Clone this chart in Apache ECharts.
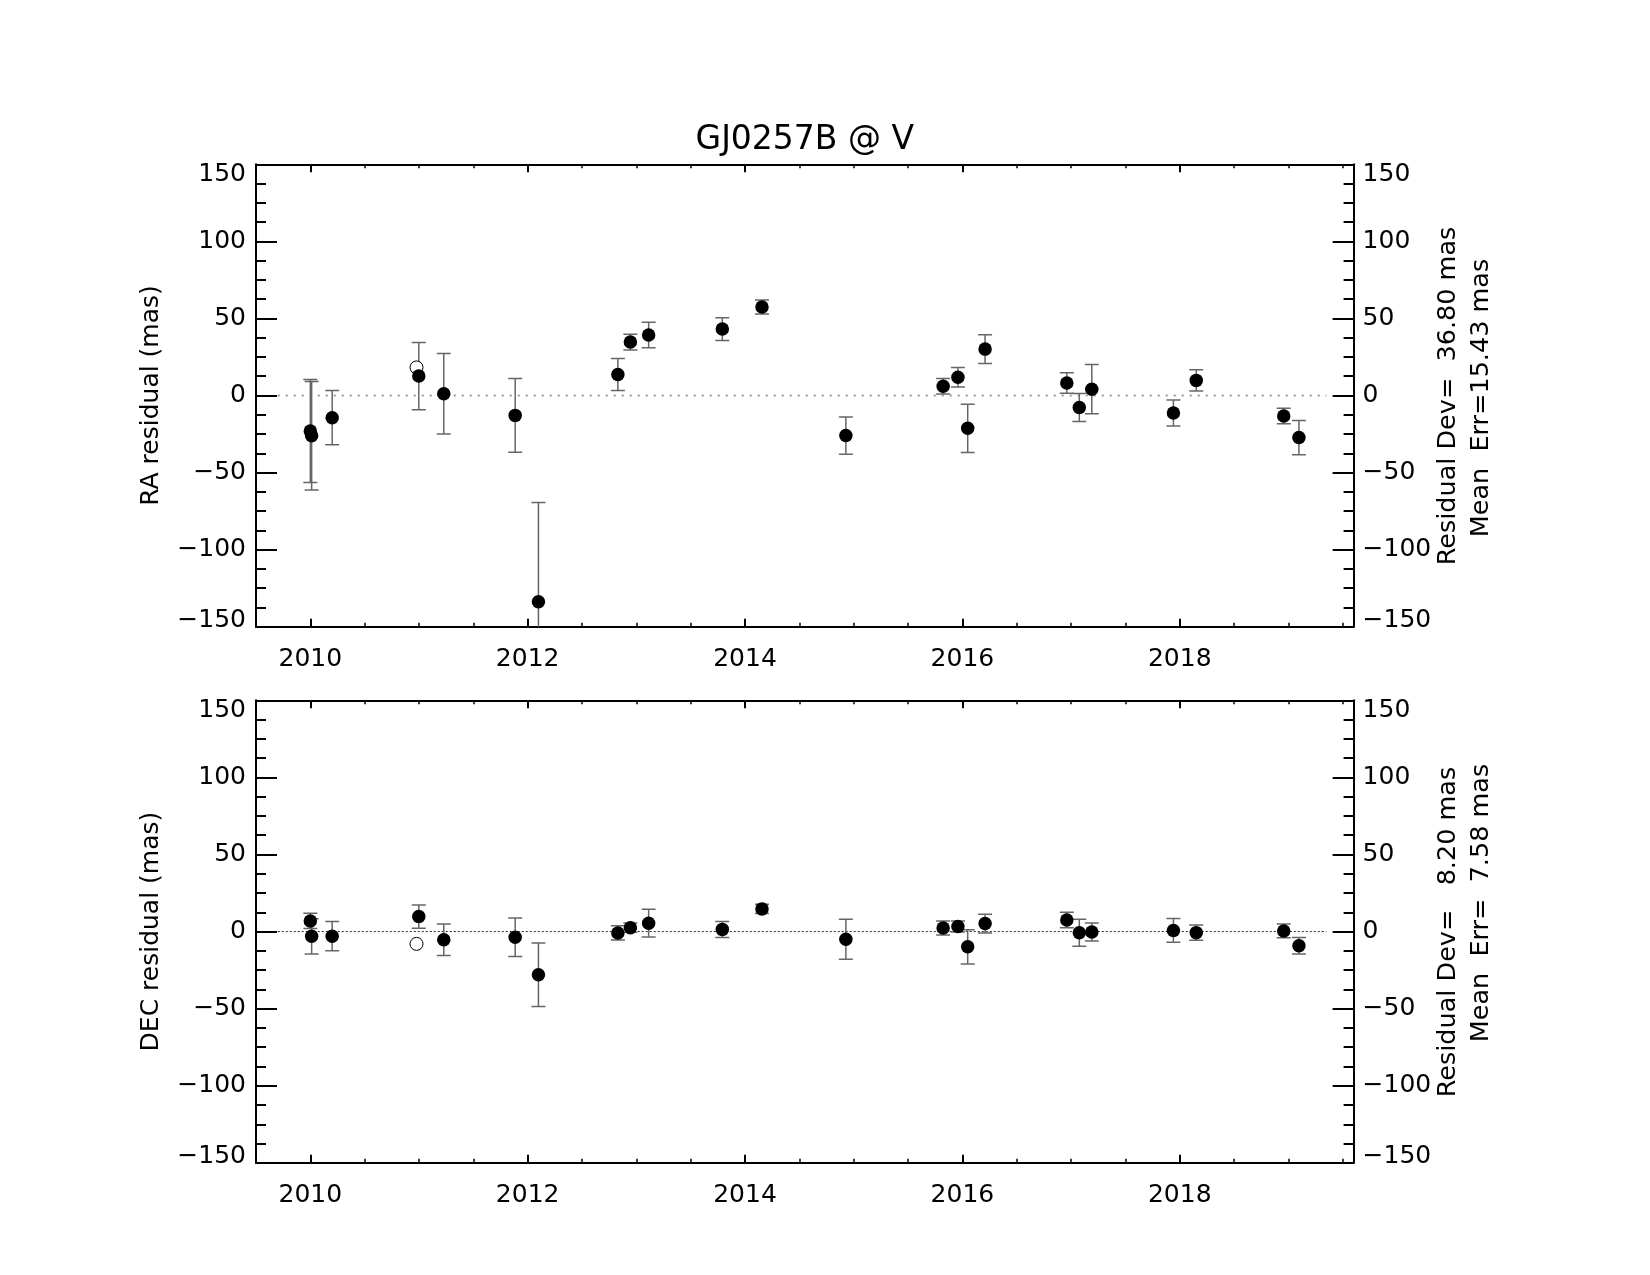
<!DOCTYPE html>
<html><head><meta charset="utf-8">
<script src="https://cdn.jsdelivr.net/npm/echarts@6/dist/echarts.min.js"></script>
<style>html,body{margin:0;padding:0;background:#fff}#c{width:1650px;height:1275px}</style>
</head><body><div id="c"></div>
<script>
// ---------------- data ----------------
const years = [2010.000, 2010.012, 2010.201, 2010.998, 2011.228, 2011.885, 2012.099, 2012.830,
  2012.945, 2013.113, 2013.791, 2014.156, 2014.928, 2015.823, 2015.959, 2016.049, 2016.209,
  2016.961, 2017.076, 2017.191, 2017.942, 2018.152, 2018.957, 2019.097];
const raValues = [-23.0, -26.1, -14.4, 12.6, 1.2, -12.9, -133.8, 13.6, 34.7, 39.3, 43.1, 57.4,
  -26.0, 6.0, 11.8, -21.3, 30.1, 8.1, -7.8, 4.1, -11.4, 9.8, -13.3, -27.3];
const raErrors = [33.4, 35.2, 17.6, 21.8, 26.1, 23.9, 64.3, 10.4, 5.1, 8.3, 7.4, 4.5,
  12.1, 5.0, 6.3, 15.6, 9.3, 6.7, 9.1, 16.0, 8.4, 6.9, 5.1, 11.1];
const decValues = [6.9, -3.1, -3.0, 9.7, -5.3, -3.7, -28.0, -0.9, 2.5, 5.4, 1.4, 14.7,
  -5.0, 2.3, 3.3, -9.9, 5.2, 7.5, -0.8, -0.3, 0.7, -0.7, 0.4, -9.2];
const decErrors = [4.9, 11.4, 9.5, 7.5, 10.2, 12.5, 20.6, 4.6, 3.0, 9.0, 5.2, 3.0,
  13.0, 4.6, 3.6, 11.1, 6.1, 5.1, 8.7, 5.8, 7.7, 4.9, 4.5, 5.4];
const rejectedYears = [2010.977];
const raRejected = [18.2];
const decRejected = [-8.0];
const majorYears = [2010, 2012, 2014, 2016, 2018];
const zeroSpan = [2009.7, 2019.35];
const titleText = 'GJ0257B @ V';
const raAxisTitle = 'RA residual (mas)';
const decAxisTitle = 'DEC residual (mas)';
const raStats = ['Residual Dev=  36.80 mas', 'Mean  Err=15.43 mas'];
const decStats = ['Residual Dev=   8.20 mas', 'Mean  Err=  7.58 mas'];

// ---------------- layout ----------------
const FONT = 'DejaVu Sans';
const LEFT = 256, RIGHT = 1353.6;
const panels = [{top: 164.3, height: 462.4}, {top: 700.3, height: 462.5}];

function yLabelFmt(v) {
  const s = v < 0 ? '\u2212' + Math.abs(v) : String(v);
  if (v === 150) return '{hi|' + s + '}';
  if (v === -150) return '{lo|' + s + '}';
  return s;
}
const labelRich = {
  hi: {padding: [20, 0, 0, 0], fontSize: 25, fontFamily: FONT, color: '#000'},
  lo: {padding: [0, 0, 12, 0], fontSize: 25, fontFamily: FONT, color: '#000'}
};

function xAxes(g) {
  const base = {type: 'value', gridIndex: g, min: 2009.5, max: 2019.6, splitLine: {show: false}};
  const majorTick = {show: true, inside: true, length: 8, customValues: majorYears, lineStyle: {color: '#000', width: 2}};
  const minorTick = {show: true, inside: true, length: 4, lineStyle: {color: '#000', width: 1.5}};
  const line = {show: true, onZero: false, lineStyle: {color: '#000', width: 2}};
  return [
    Object.assign({}, base, {position: 'bottom', axisLine: line, axisTick: majorTick,
      axisLabel: {show: true, customValues: majorYears, formatter: v => String(v), fontSize: 25,
        fontFamily: FONT, color: '#000', margin: 20}}),
    Object.assign({}, base, {position: 'bottom', interval: 0.5, axisLine: {show: false, onZero: false},
      axisTick: minorTick, axisLabel: {show: false}}),
    Object.assign({}, base, {position: 'top', axisLine: line, axisTick: majorTick, axisLabel: {show: false}}),
    Object.assign({}, base, {position: 'top', interval: 0.5, axisLine: {show: false, onZero: false},
      axisTick: minorTick, axisLabel: {show: false}})
  ];
}
function yAxes(g, name) {
  const base = {
    type: 'value', gridIndex: g, min: -150, max: 150, interval: 50, splitLine: {show: false},
    axisLine: {show: true, onZero: false, lineStyle: {color: '#000', width: 2}},
    axisTick: {show: true, inside: true, length: 21, lineStyle: {color: '#000', width: 2}},
    minorTick: {show: true, splitNumber: 4, length: 10, lineStyle: {color: '#000', width: 2}},
    minorSplitLine: {show: false}
  };
  return [
    Object.assign({}, base, {position: 'left',
      axisLabel: {formatter: yLabelFmt, rich: labelRich, fontSize: 25, fontFamily: FONT, color: '#000', margin: 10},
      name: name, nameLocation: 'middle', nameRotate: 90, nameGap: 92,
      nameTextStyle: {fontSize: 25, fontFamily: FONT, color: '#000'}}),
    Object.assign({}, base, {position: 'right',
      axisLabel: {formatter: yLabelFmt, rich: labelRich, fontSize: 25, fontFamily: FONT, color: '#000', margin: 9}})
  ];
}

function errRender(color, width) {
  return function (params, api) {
    const x = api.value(0), y = api.value(1), e = api.value(2);
    const t = api.coord([x, y + e]), b = api.coord([x, y - e]);
    const h = 7;
    const style = {stroke: color, lineWidth: width};
    return {type: 'group', children: [
      {type: 'line', shape: {x1: t[0], y1: t[1], x2: b[0], y2: b[1]}, style: style},
      {type: 'line', shape: {x1: t[0] - h, y1: t[1], x2: t[0] + h, y2: t[1]}, style: style},
      {type: 'line', shape: {x1: b[0] - h, y1: b[1], x2: b[0] + h, y2: b[1]}, style: style}
    ]};
  };
}

function panelSeries(g, vals, errs, rej, zeroStyle) {
  const xi = g * 4, yi = g * 2;
  return [
    {type: 'line', xAxisIndex: xi, yAxisIndex: yi, data: zeroSpan.map(x => [x, 0]),
      symbol: 'none', lineStyle: zeroStyle, z: 1, silent: true},
    {type: 'custom', xAxisIndex: xi, yAxisIndex: yi, clip: true, z: 2,
      dimensions: ['x', 'y', 'e'], encode: {x: 0, y: 1},
      data: years.map((x, i) => [x, vals[i], errs[i]]), renderItem: errRender('#666', 1.5)},
    {type: 'scatter', xAxisIndex: xi, yAxisIndex: yi, z: 3, symbol: 'circle', symbolSize: 13,
      itemStyle: {color: '#fff', borderColor: '#000', borderWidth: 1, opacity: 1},
      data: rejectedYears.map((x, i) => [x, rej[i]])},
    {type: 'scatter', xAxisIndex: xi, yAxisIndex: yi, z: 4, symbol: 'circle', symbolSize: 13.5,
      itemStyle: {color: '#000', opacity: 1},
      data: years.map((x, i) => [x, vals[i]])}
  ];
}

function rotText(x, y, text) {
  return {type: 'text', x: x, y: y, rotation: Math.PI / 2, silent: true,
    style: {text: text, font: '25.5px "' + FONT + '"', fill: '#000', align: 'center', verticalAlign: 'middle'}};
}

const chart = echarts.init(document.getElementById('c'), null, {renderer: 'canvas'});
chart.setOption({
  animation: false,
  backgroundColor: '#fff',
  textStyle: {fontFamily: FONT},
  grid: panels.map(p => ({left: LEFT, right: 1650 - RIGHT, top: p.top, height: p.height, containLabel: false})),
  xAxis: xAxes(0).concat(xAxes(1)),
  yAxis: yAxes(0, raAxisTitle).concat(yAxes(1, decAxisTitle)),
  series: panelSeries(0, raValues, raErrors, raRejected, {color: '#999', width: 2, type: [2, 6]})
    .concat(panelSeries(1, decValues, decErrors, decRejected, {color: '#222', width: 1, type: [2, 2]})),
  graphic: [
    {type: 'text', x: (LEFT + RIGHT) / 2, y: 140, silent: true,
      style: {text: titleText, font: '33px "' + FONT + '"', fill: '#000', align: 'center', verticalAlign: 'middle'}},
    rotText(1448.3, 396, raStats[0]),
    rotText(1481.7, 398, raStats[1]),
    rotText(1448.3, 932, decStats[0]),
    rotText(1481.7, 903, decStats[1])
  ]
});
</script>
</body></html>
